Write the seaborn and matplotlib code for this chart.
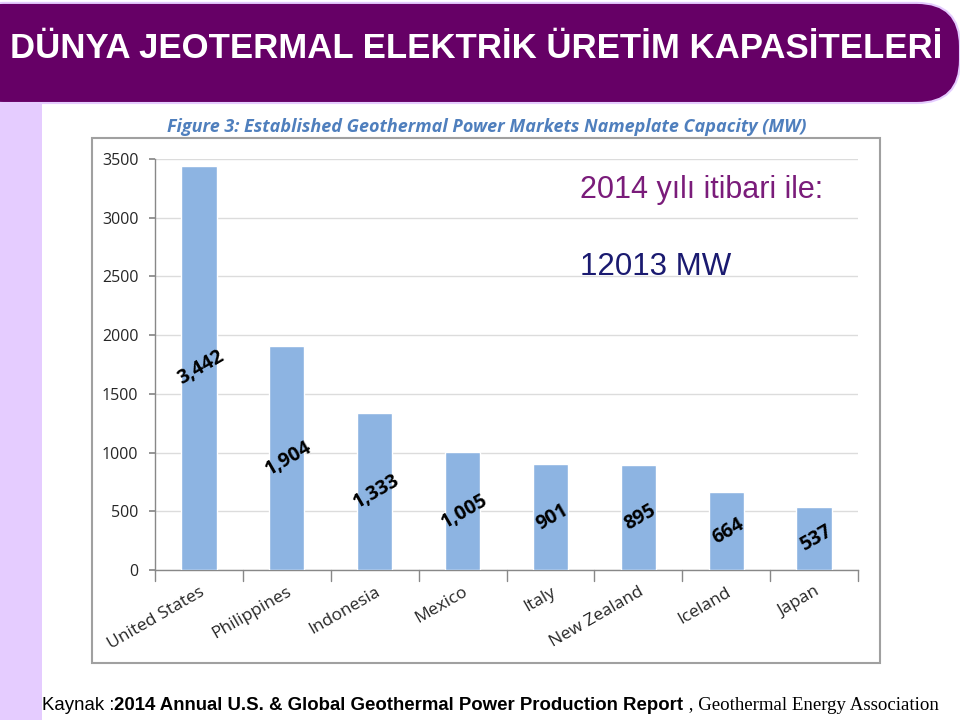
import matplotlib
matplotlib.use("Agg")
import matplotlib.pyplot as plt
import seaborn as sns
import pandas as pd
from matplotlib.patches import FancyBboxPatch, Rectangle

countries = ['United States', 'Philippines', 'Indonesia', 'Mexico', 'Italy',
             'New Zealand', 'Iceland', 'Japan']
capacity = [3442, 1904, 1333, 1005, 901, 895, 664, 537]
yticks = [0, 500, 1000, 1500, 2000, 2500, 3000, 3500]

df = pd.DataFrame({'Country': countries, 'MW': capacity})

sns.set_theme(style='white')
plt.rcParams['font.family'] = ['Liberation Sans', 'DejaVu Sans']

W, H = 960, 720
fig = plt.figure(figsize=(9.6, 7.2), dpi=100)
fig.patch.set_facecolor('white')


def fx(px):
    return px / W


def fy(py):
    return 1 - py / H


# left lavender strip
fig.patches.append(Rectangle((0, 0), fx(42), fy(100), transform=fig.transFigure,
                             facecolor='#E5CCFF', edgecolor='none', zorder=0))
# header bar
fig.patches.append(FancyBboxPatch((fx(-40), fy(103)), fx(1000), fy(0) - fy(103) - 0.004,
                                  boxstyle='round,pad=0,rounding_size=0.045',
                                  transform=fig.transFigure, facecolor='#660066',
                                  edgecolor='#E5CCFF', linewidth=1.5, zorder=1,
                                  mutation_aspect=1.33))
fig.text(fx(10), fy(49), 'DÜNYA JEOTERMAL ELEKTRİK ÜRETİM KAPASİTELERİ',
         color='white', fontsize=25, fontweight='bold', va='center', ha='left')

# chart frame
fig.patches.append(Rectangle((fx(92), fy(663)), fx(880) - fx(92), fy(138) - fy(663),
                             transform=fig.transFigure, facecolor='white',
                             edgecolor='#A0A0A0', linewidth=1.5, zorder=1))
fig.text(fx(487), fy(127), 'Figure 3: Established Geothermal Power Markets Nameplate Capacity (MW)',
         color='#4F7FBD', fontsize=13, fontweight='bold', style='italic',
         ha='center', va='center', family=['Open Sans', 'DejaVu Sans'])

ax = fig.add_axes([fx(155), fy(570), fx(858) - fx(155), fy(159) - fy(570)])
ax.set_zorder(2)
ax.patch.set_alpha(0)
sns.barplot(data=df, x='Country', y='MW', color='#8DB4E2', width=0.4,
            saturation=1, ax=ax, zorder=3)
ax.set_ylim(0, 3500)
ax.set_yticks(yticks)
ax.set_yticklabels([str(t) for t in yticks], fontsize=11.5, family=['Open Sans', 'DejaVu Sans'])
ax.yaxis.grid(True, color='#DCDCDC', linewidth=1)
ax.set_axisbelow(True)
ax.set_xlabel('')
ax.set_ylabel('')
ax.set_xlim(-0.5, len(countries) - 0.5)
ax.set_xticks(range(len(countries)))
ax.set_xticklabels(countries, rotation=30, ha='right', rotation_mode='anchor',
                   fontsize=12.5, family=['Open Sans', 'DejaVu Sans'])
ax.tick_params(axis='x', length=0, pad=10)
ax.tick_params(axis='y', length=4, color='#888888', left=True, pad=8)
for x in range(len(countries) + 1):
    ax.plot([x - 0.5, x - 0.5], [0, -90], color='#888888', lw=1, clip_on=False)
for s in ['top', 'right']:
    ax.spines[s].set_visible(False)
for s in ['left', 'bottom']:
    ax.spines[s].set_color('#888888')
    ax.spines[s].set_linewidth(1)

for i, v in enumerate(capacity):
    ax.text(i + 0.02, v / 2, f'{v:,}', rotation=30, ha='center', va='center',
            fontsize=14, fontweight='bold', color='black',
            family=['Open Sans', 'DejaVu Sans'], zorder=4)

fig.text(fx(580), fy(190), '2014 yılı itibari ile:', color='#7A1C7A', fontsize=22,
         ha='left', va='center', zorder=5)
fig.text(fx(580), fy(267), '12013 MW', color='#1A1A70', fontsize=22.5,
         ha='left', va='center', zorder=5)

# footer with mixed fonts
renderer = fig.canvas.get_renderer()
x0 = fx(42)
parts = [('Kaynak :', dict(fontsize=13.4)),
         ('2014 Annual U.S. & Global Geothermal Power Production Report', dict(fontsize=13.4, fontweight='bold')),
         (' , Geothermal Energy Association', dict(fontsize=13.6, family=['Liberation Serif', 'DejaVu Serif']))]
for txt, kw in parts:
    t = fig.text(x0, fy(705), txt, ha='left', va='center', color='black', **kw)
    bb = t.get_window_extent(renderer)
    x0 += bb.width / W

fig.savefig('out.png', dpi=100)
